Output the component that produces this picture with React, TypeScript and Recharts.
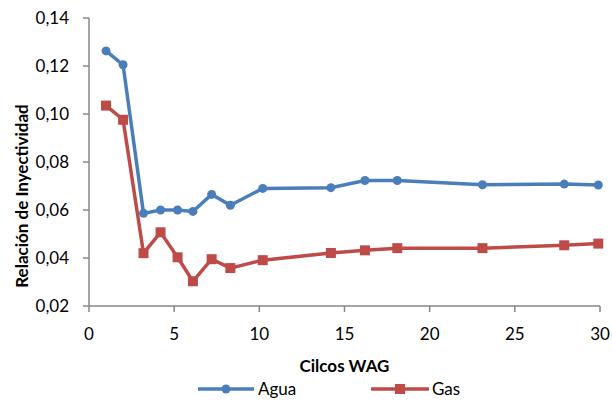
import { LineChart, Line, XAxis, YAxis } from "recharts";

const cycles = [1, 2, 3.2, 4.2, 5.2, 6.1, 7.2, 8.3, 10.2, 14.2, 16.2, 18.1, 23.1, 27.9, 29.9];
const agua = [0.1263, 0.1205, 0.0586, 0.06, 0.06, 0.0594, 0.0665, 0.062, 0.069, 0.0693, 0.0723, 0.0723, 0.0705, 0.0708, 0.0704];
const gas = [0.1035, 0.0976, 0.042, 0.0507, 0.0403, 0.0303, 0.0395, 0.0358, 0.0391, 0.0421, 0.0432, 0.0441, 0.0441, 0.0453, 0.046];
const xTicks = [0, 5, 10, 15, 20, 25, 30];
const yTicks = [0.02, 0.04, 0.06, 0.08, 0.1, 0.12, 0.14];

const BLUE = "#4a7ebb";
const RED = "#be4b48";
const AXIS = "#868686";
const FONT = "Lato, 'Liberation Sans', sans-serif";

const data = cycles.map((c, i) => ({ c, agua: agua[i], gas: gas[i] }));

const SquareDot = (props: any) => {
  const { cx, cy } = props;
  if (cx == null || cy == null) return null;
  return <rect x={cx - 5} y={cy - 5} width={10} height={10} fill={RED} />;
};

const YTitle = () => (
  <text
    x={21}
    y={196}
    transform="rotate(-90 21 196)"
    textAnchor="middle"
    dominantBaseline="central"
    fontFamily={FONT}
    fontSize={17}
    fontWeight="bold"
    fill="#000"
  >
    Relación de Inyectividad
  </text>
);

const ChartLegend = () => (
  <div
    style={{
      position: "absolute",
      left: 198,
      top: 378,
      display: "flex",
      alignItems: "center",
      fontFamily: FONT,
      fontSize: 17,
      color: "#000",
      lineHeight: "22px",
    }}
  >
    <svg width={56} height={12}>
      <line x1={0} y1={6} x2={56} y2={6} stroke={BLUE} strokeWidth={3.5} />
      <circle cx={28} cy={6} r={4.5} fill={BLUE} />
    </svg>
    <span style={{ marginLeft: 4, width: 113 }}>Agua</span>
    <svg width={58} height={12}>
      <line x1={0} y1={6} x2={58} y2={6} stroke={RED} strokeWidth={3.5} />
      <rect x={24} y={1} width={10} height={10} fill={RED} />
    </svg>
    <span style={{ marginLeft: 3 }}>Gas</span>
  </div>
);

export default function App() {
  return (
    <div style={{ position: "absolute", left: 0, top: 0, width: 612, height: 401, background: "#fff" }}>
      <LineChart width={612} height={401} data={data} margin={{ top: 18, right: 12, left: 29, bottom: 65 }}>
        <XAxis
          dataKey="c"
          type="number"
          domain={[0, 30]}
          ticks={xTicks}
          stroke={AXIS}
          strokeWidth={1.5}
          tickSize={6}
          tickMargin={16}
          tick={{ fill: "#000", fontSize: 17, fontFamily: FONT }}
          label={{ value: "Cilcos WAG", position: "insideBottom", offset: -36, fill: "#000", fontSize: 17, fontWeight: "bold", fontFamily: FONT }}
        />
        <YAxis
          type="number"
          domain={[0.02, 0.14]}
          ticks={yTicks}
          width={60}
          stroke={AXIS}
          strokeWidth={1.5}
          tickSize={6}
          tickMargin={14}
          tickFormatter={(v: number) => v.toFixed(2).replace(".", ",")}
          tick={{ fill: "#000", fontSize: 17, fontFamily: FONT }}
          label={<YTitle />}
        />
        <Line dataKey="agua" stroke={BLUE} strokeWidth={3.5} dot={{ r: 4.5, fill: BLUE, stroke: BLUE, strokeWidth: 0 }} isAnimationActive={false} />
        <Line dataKey="gas" stroke={RED} strokeWidth={3.5} dot={<SquareDot />} isAnimationActive={false} />
      </LineChart>
      <ChartLegend />
    </div>
  );
}
